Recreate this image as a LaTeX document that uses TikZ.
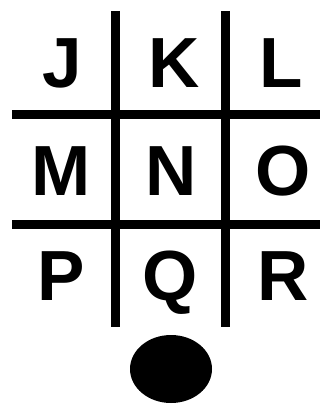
\documentclass[tikz,border=0pt]{standalone}
\usepackage{fontspec}
\setmainfont{Liberation Sans}
\begin{document}
\begin{tikzpicture}[x=1pt,y=-1pt,every node/.style={font=\fontsize{71}{71}\selectfont\bfseries,inner sep=0pt,anchor=base}]
\useasboundingbox (0,0) rectangle (326,404);
\draw[line width=9pt] (115,11)--(115,327);
\draw[line width=9pt] (225,11)--(225,327);
\draw[line width=9pt] (12,114)--(320,114);
\draw[line width=9pt] (12,224)--(320,224);
\foreach \ch/\x/\y in {J/62/88,K/174/88,L/281/88,M/61/195,N/171/195,O/283/195,P/61/300,Q/170/300,R/283/300} {\node (\ch) at (\x,\y) {\ch};}
\fill (171,369) ellipse (41 and 34);
\end{tikzpicture}
\end{document}
